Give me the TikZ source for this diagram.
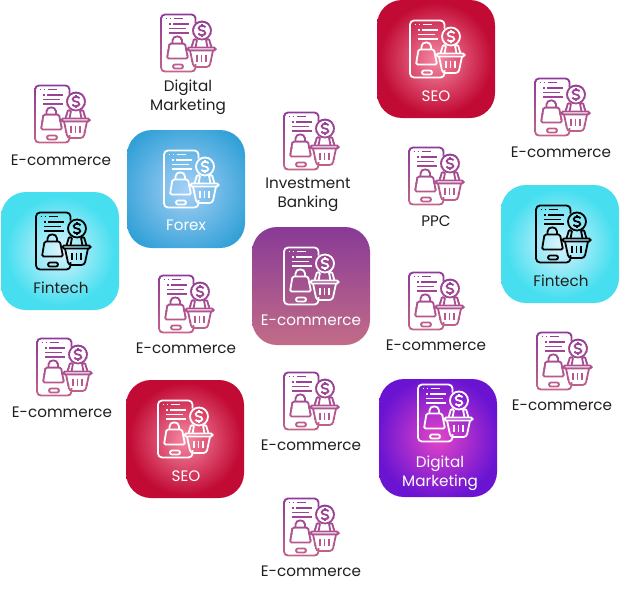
\documentclass[tikz,border=0pt]{standalone}
\usepackage{fontspec}
\setmainfont{Poppins}
\usetikzlibrary{calc}
\definecolor{icontop}{HTML}{8E3A98}
\definecolor{iconbot}{HTML}{C4648A}
\definecolor{inkcol}{HTML}{1F1F1F}
\definecolor{fintechin}{HTML}{DDF3FC}
\definecolor{fintechout}{HTML}{47DFF0}
\definecolor{forexin}{HTML}{A6D0F6}
\definecolor{forexout}{HTML}{2E9FD6}
\definecolor{seoin}{HTML}{F58AA4}
\definecolor{seoout}{HTML}{C10A34}
\definecolor{digitalin}{HTML}{E445C8}
\definecolor{digitalout}{HTML}{6A14D2}
\definecolor{ecomtop}{HTML}{883A96}
\definecolor{ecombot}{HTML}{C26C88}
\pgfdeclareradialshading{fintechglow}{\pgfpointorigin}{color(0bp)=(fintechin); color(23bp)=(fintechout); color(50bp)=(fintechout)}
\pgfdeclareradialshading{forexglow}{\pgfpointorigin}{color(0bp)=(forexin); color(31bp)=(forexout); color(50bp)=(forexout)}
\pgfdeclareradialshading{seoglow}{\pgfpointorigin}{color(0bp)=(seoin); color(24bp)=(seoout); color(50bp)=(seoout)}
\pgfdeclareradialshading{digitalglow}{\pgfpointorigin}{color(0bp)=(digitalin); color(26bp)=(digitalout); color(50bp)=(digitalout)}
\newcommand\shopicon{
  \draw[rounded corners=4] (34.5,8) -- (34.5,0) -- (0,0) -- (0,57) -- (34.5,57) -- (34.5,49.5);
  % screen text
  \draw (4.5,4) -- (6,4) (8.5,4) -- (10,4) (12.5,4) -- (22,4);
  \draw (8,9.5) -- (9.5,9.5) (12,9.5) -- (28,9.5);
  \draw (8,14) -- (25,14);
  \draw (8,18.5) -- (28,18.5);
  % bag
  \draw[rounded corners=1.5] (8.5,29) -- (24,29) -- (27,44) -- (6,44) -- cycle;
  \draw (11.5,29) -- (11.5,26) .. controls (11.5,20.5) and (21,20.5) .. (21,26) -- (21,29);
  % button
  \draw[rounded corners=2] (12,50) rectangle (22,54);
  % coin
  \draw (41,16) circle (9);
  \draw (44.5,12.8) .. controls (43.5,10.8) and (38.3,10.6) .. (37.7,13.5) .. controls (37.3,17) and (44.5,15) .. (44.3,18.6) .. controls (43.9,21.4) and (38.3,21.2) .. (37.5,19.2);
  \draw (41,9.5) -- (41,11) (41,21) -- (41,22.5);
  % basket
  \draw[rounded corners=1.5] (26.5,36) -- (26.5,33) -- (54.5,33) -- (54.5,36) -- cycle;
  \draw[rounded corners=3] (29,36) -- (32.5,52.5) -- (48.5,52.5) -- (52,36);
  \draw (36,40) -- (36,47.5) (40.5,40) -- (40.5,47.5) (45,40) -- (45,47.5);
  \draw[rounded corners=1] (30.5,33) -- (33,24.5) -- (36,25.2) -- (34.5,33);
  \draw[rounded corners=1] (50.5,33) -- (48,24.5) -- (45,25.2) -- (46.5,33);
}
\tikzset{
  plainicon/.pic={
    \begin{scope}[line width=1.8,shift={(1,0.5)},#1]
      \shopicon
    \end{scope}
  },
  gradicon/.pic={
    \foreach \i [evaluate={\f=int(100*\i/11);}] in {0,...,11}{
      \begin{scope}
        \clip (-3,\i*5.4-2) rectangle (60,\i*5.4+3.9);
        \begin{scope}[line width=1.8,shift={(1,0.5)},color=iconbot!\f!icontop]
          \shopicon
        \end{scope}
      \end{scope}
    }
  },
  tile/.style={minimum size=118,inner sep=0,rounded corners=25},
  lab/.style={font=\fontsize{15.2}{19}\selectfont,align=center,inkcol,inner sep=0},
  whitelab/.style={lab,white}
}
\begin{document}
\begin{tikzpicture}[x=1pt,y=-1pt]
  \useasboundingbox (0,0) rectangle (620,597);

  % TILES
  \node[tile,shade,shading=fintechglow] (fintechL) at (60,251) {};
  \node[tile,shade,shading=fintechglow] (fintechR) at (560,244) {};
  \node[tile,shade,shading=forexglow] (forex) at (186,189) {};
  \node[tile,shade,shading=seoglow] (seoT) at (436,59) {};
  \node[tile,shade,shading=seoglow] (seoB) at (185,439) {};
  \node[tile,shade,shading=digitalglow] (digital) at (438,438) {};
  \node[tile,top color=ecomtop,bottom color=ecombot,middle color=ecomtop!50!ecombot] (ecom) at (311,286) {};

  % TILE ICONS
  \pic at (35,212) {plainicon=black};
  \pic at (535,205) {plainicon=black};
  \pic at (163,150) {plainicon=white};
  \pic at (409,20) {plainicon=white};
  \pic at (157,400) {plainicon=white};
  \pic at (417,384) {plainicon=white};
  \pic at (283,247) {plainicon=white};

  % TILE LABELS
  \node[lab] (fintechLlab) at (61,287.5) {Fintech};
  \node[lab] (fintechRlab) at (561,280.5) {Fintech};
  \node[whitelab] (forexlab) at (186,225.5) {Forex};
  \node[whitelab] (seoTlab) at (436,96.5) {SEO};
  \node[whitelab] (seoBlab) at (186,476.5) {SEO};
  \node[whitelab] (digitallab) at (440,473.5) {Digital\\Marketing};
  \node[whitelab] (ecomlab) at (311,320.5) {E-commerce};

  % FREE ITEMS
  \foreach \n/\x/\y/\lx/\ly/\txt in {
    a/34/85/61/160.5/E-commerce,
    b/160/14/188/97.5/Digital\\Marketing,
    c/283/112/308/194.5/Investment\\Banking,
    d/408/147/436/221.5/PPC,
    e/534/78/561/152.5/E-commerce,
    f/158/275/186/348.5/E-commerce,
    g/408/272/436/345.5/E-commerce,
    h/36/338/62/412.5/E-commerce,
    i/536/332/562/405.5/E-commerce,
    j/283/372/311/445.5/E-commerce,
    k/283/498/311/571.5/E-commerce}{
    \pic at (\x,\y) {gradicon};
    \node[lab] (lab\n) at (\lx,\ly) {\txt};
  }
\end{tikzpicture}
\end{document}
